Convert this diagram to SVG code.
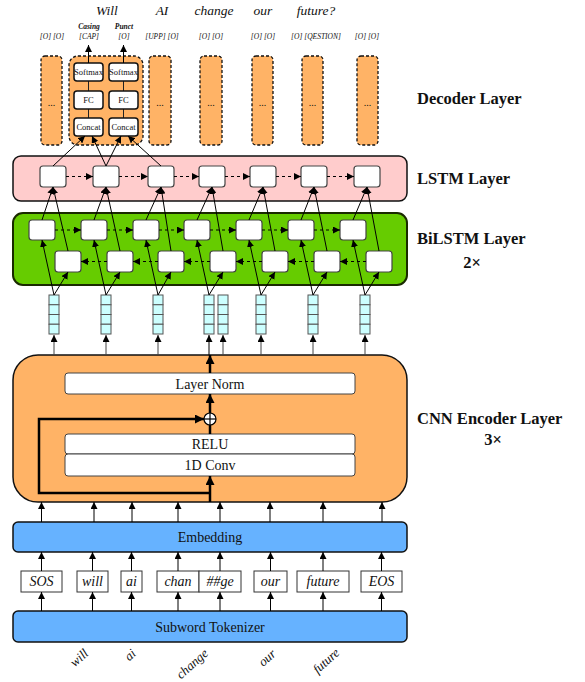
<svg xmlns="http://www.w3.org/2000/svg" width="585" height="682" viewBox="0 0 585 682">
<defs>
<marker id="ah" viewBox="0 0 10 10" refX="10" refY="5" markerWidth="7" markerHeight="7" markerUnits="userSpaceOnUse" orient="auto"><path d="M0,0 L10,5 L0,10 z" fill="#000"/></marker>
<marker id="ahb" viewBox="0 0 10 10" refX="10" refY="5" markerWidth="10" markerHeight="9" markerUnits="userSpaceOnUse" orient="auto"><path d="M0,0 L10,5 L0,10 z" fill="#000"/></marker>
<style>
.t{font-family:"Liberation Serif","Times New Roman",serif;fill:#111}
.c{text-anchor:middle}
.it{font-style:italic}
.bd{font-weight:bold}
.lbl{font-size:16.5px;font-weight:bold}
.cell{fill:#fff;stroke:#444;stroke-width:1.2}
.dbox{fill:#ffb366;stroke:#111;stroke-width:1.3;stroke-dasharray:3,2}
.ibox{fill:#fff;stroke:#111;stroke-width:1.5}
.wbox{fill:#fff;stroke:#444;stroke-width:1}
.vec{fill:#ccffff;stroke:#555;stroke-width:1}
.tok{fill:#fff;stroke:#333;stroke-width:1}
.a{stroke:#000;stroke-width:1;fill:none;marker-end:url(#ah)}
.ag{stroke:#444;stroke-width:1;fill:none;marker-end:url(#ah)}
.ad{stroke:#000;stroke-width:1;fill:none;stroke-dasharray:3,3;marker-end:url(#ah)}
.ak{stroke:#000;stroke-width:2.5;fill:none;marker-end:url(#ahb)}
.ln{stroke:#222;stroke-width:1;fill:none}
</style>
</defs>

<!-- top sentence -->
<g id="sentence" class="t it" font-size="13.5" text-anchor="middle">
<text x="107" y="15">Will</text>
<text x="162" y="15">AI</text>
<text x="214" y="15">change</text>
<text x="263" y="15">our</text>
<text x="316" y="15">future?</text>
</g>

<!-- output labels -->
<g id="outputs" class="t it c" font-size="7.5">
<text x="89" y="29" class="bd">Casing</text>
<text x="124" y="29" class="bd">Punct</text>
<text x="52" y="38.5">[O]  [O]</text>
<text x="89" y="38.5">[CAP]</text>
<text x="124" y="38.5">[O]</text>
<text x="162" y="38.5">[UPP] [O]</text>
<text x="211" y="38.5">[O] [O]</text>
<text x="263" y="38.5">[O]  [O]</text>
<text x="316" y="38.5">[O] [QESTION]</text>
<text x="367" y="38.5">[O] [O]</text>
</g>

<!-- decoder layer -->
<g id="decoder">
<rect class="dbox" x="41" y="56" width="21" height="89" rx="4"/>
<rect class="dbox" x="69" y="56" width="74" height="89" rx="9"/>
<rect class="dbox" x="149" y="56" width="22" height="89" rx="4"/>
<rect class="dbox" x="200" y="56" width="22" height="89" rx="4"/>
<rect class="dbox" x="252" y="56" width="21" height="89" rx="4"/>
<rect class="dbox" x="302" y="56" width="21" height="89" rx="4"/>
<rect class="dbox" x="357" y="56" width="21" height="89" rx="4"/>
<g class="t c" font-size="10">
<text x="51.5" y="106">...</text>
<text x="160" y="106">...</text>
<text x="211" y="106">...</text>
<text x="262.5" y="106">...</text>
<text x="312.5" y="106">...</text>
<text x="367.5" y="106">...</text>
</g>
<line class="ln" x1="88.5" y1="81" x2="88.5" y2="118"/>
<line class="ln" x1="123.5" y1="81" x2="123.5" y2="118"/>
<g id="dec-casing">
<rect class="ibox" x="74" y="63" width="29" height="18" rx="3"/>
<rect class="ibox" x="74" y="91" width="29" height="18" rx="3"/>
<rect class="ibox" x="74" y="118" width="29" height="18" rx="3"/>
<g class="t c" font-size="8.5">
<text x="88.5" y="75">Softmax</text>
<text x="88.5" y="103">FC</text>
<text x="88.5" y="130">Concat</text>
</g>
</g>
<g id="dec-punct">
<rect class="ibox" x="109" y="63" width="29" height="18" rx="3"/>
<rect class="ibox" x="109" y="91" width="29" height="18" rx="3"/>
<rect class="ibox" x="109" y="118" width="29" height="18" rx="3"/>
<g class="t c" font-size="8.5">
<text x="123.5" y="75">Softmax</text>
<text x="123.5" y="103">FC</text>
<text x="123.5" y="130">Concat</text>
</g>
</g>
</g>

<!-- LSTM layer -->
<g id="lstm">
<rect x="13" y="156" width="394" height="45" rx="8" fill="#ffcccc" stroke="#111" stroke-width="1.5"/>
<rect class="cell" x="40" y="166" width="26" height="21" rx="3"/>
<rect class="cell" x="93" y="166" width="26" height="21" rx="3"/>
<rect class="cell" x="148" y="166" width="26" height="21" rx="3"/>
<rect class="cell" x="199" y="166" width="26" height="21" rx="3"/>
<rect class="cell" x="250" y="166" width="26" height="21" rx="3"/>
<rect class="cell" x="301" y="166" width="26" height="21" rx="3"/>
<rect class="cell" x="354" y="166" width="26" height="21" rx="3"/>
</g>

<!-- BiLSTM layer -->
<g id="bilstm">
<rect x="13" y="213" width="394" height="72" rx="10" fill="#66cc00" stroke="#1a2a00" stroke-width="2"/>
<rect class="cell" x="29" y="220" width="26" height="20" rx="3"/>
<rect class="cell" x="81" y="220" width="26" height="20" rx="3"/>
<rect class="cell" x="133" y="220" width="26" height="20" rx="3"/>
<rect class="cell" x="184" y="220" width="26" height="20" rx="3"/>
<rect class="cell" x="236" y="220" width="26" height="20" rx="3"/>
<rect class="cell" x="288" y="220" width="26" height="20" rx="3"/>
<rect class="cell" x="340" y="220" width="26" height="20" rx="3"/>
<rect class="cell" x="55" y="251" width="26" height="21" rx="3"/>
<rect class="cell" x="107" y="251" width="26" height="21" rx="3"/>
<rect class="cell" x="158" y="251" width="26" height="21" rx="3"/>
<rect class="cell" x="210" y="251" width="26" height="21" rx="3"/>
<rect class="cell" x="262" y="251" width="26" height="21" rx="3"/>
<rect class="cell" x="314" y="251" width="26" height="21" rx="3"/>
<rect class="cell" x="366" y="251" width="26" height="21" rx="3"/>
</g>

<!-- vectors -->
<g id="vectors">
<g id="vec1"><rect class="vec" x="49" y="295" width="10" height="9.75"/><rect class="vec" x="49" y="304.75" width="10" height="9.75"/><rect class="vec" x="49" y="314.5" width="10" height="9.75"/><rect class="vec" x="49" y="324.25" width="10" height="9.75"/></g>
<g id="vec2"><rect class="vec" x="101" y="295" width="10" height="9.75"/><rect class="vec" x="101" y="304.75" width="10" height="9.75"/><rect class="vec" x="101" y="314.5" width="10" height="9.75"/><rect class="vec" x="101" y="324.25" width="10" height="9.75"/></g>
<g id="vec3"><rect class="vec" x="153" y="295" width="10" height="9.75"/><rect class="vec" x="153" y="304.75" width="10" height="9.75"/><rect class="vec" x="153" y="314.5" width="10" height="9.75"/><rect class="vec" x="153" y="324.25" width="10" height="9.75"/></g>
<g id="vec4"><rect class="vec" x="204" y="295" width="10" height="9.75"/><rect class="vec" x="204" y="304.75" width="10" height="9.75"/><rect class="vec" x="204" y="314.5" width="10" height="9.75"/><rect class="vec" x="204" y="324.25" width="10" height="9.75"/></g>
<g id="vec5"><rect class="vec" x="218" y="295" width="10" height="9.75"/><rect class="vec" x="218" y="304.75" width="10" height="9.75"/><rect class="vec" x="218" y="314.5" width="10" height="9.75"/><rect class="vec" x="218" y="324.25" width="10" height="9.75"/></g>
<g id="vec6"><rect class="vec" x="256" y="295" width="10" height="9.75"/><rect class="vec" x="256" y="304.75" width="10" height="9.75"/><rect class="vec" x="256" y="314.5" width="10" height="9.75"/><rect class="vec" x="256" y="324.25" width="10" height="9.75"/></g>
<g id="vec7"><rect class="vec" x="308" y="295" width="10" height="9.75"/><rect class="vec" x="308" y="304.75" width="10" height="9.75"/><rect class="vec" x="308" y="314.5" width="10" height="9.75"/><rect class="vec" x="308" y="324.25" width="10" height="9.75"/></g>
<g id="vec8"><rect class="vec" x="360" y="295" width="10" height="9.75"/><rect class="vec" x="360" y="304.75" width="10" height="9.75"/><rect class="vec" x="360" y="314.5" width="10" height="9.75"/><rect class="vec" x="360" y="324.25" width="10" height="9.75"/></g>
</g>

<!-- CNN encoder -->
<g id="cnn">
<rect x="13" y="355" width="394" height="147" rx="25" fill="#ffb366" stroke="#111" stroke-width="1.5"/>
<g id="layernorm"><rect class="wbox" x="65" y="373" width="290" height="21" rx="3"/><text class="t c" x="210" y="388.5" font-size="14">Layer Norm</text></g>
<g id="relu"><rect class="wbox" x="65" y="434" width="290" height="20" rx="3"/><text class="t c" x="210" y="449" font-size="14">RELU</text></g>
<g id="conv"><rect class="wbox" x="65" y="454" width="290" height="22" rx="3"/><text class="t c" x="210" y="470" font-size="14">1D Conv</text></g>
<g id="add"><circle cx="210" cy="419" r="6" fill="#fff" stroke="#000" stroke-width="1.2"/><line x1="204" y1="419" x2="216" y2="419" stroke="#000" stroke-width="1.2"/><line x1="210" y1="413" x2="210" y2="425" stroke="#000" stroke-width="1.2"/></g>
</g>

<!-- Embedding -->
<g id="embedding"><rect x="13" y="522" width="394" height="30" rx="5" fill="#66b2ff" stroke="#111" stroke-width="1.5"/><text class="t c" x="210" y="542" font-size="14">Embedding</text></g>

<!-- tokens -->
<g id="tokens" class="t it c" font-size="14">
<g id="tok-sos"><rect class="tok" x="21" y="571" width="41" height="21"/><text x="41.5" y="586">SOS</text></g>
<g id="tok-will"><rect class="tok" x="77" y="571" width="31" height="21"/><text x="92.5" y="586">will</text></g>
<g id="tok-ai"><rect class="tok" x="121" y="571" width="21" height="21"/><text x="131.5" y="586">ai</text></g>
<g id="tok-chan"><rect class="tok" x="157" y="571" width="42" height="21"/><text x="178" y="586">chan</text></g>
<g id="tok-ge"><rect class="tok" x="199" y="571" width="42" height="21"/><text x="220" y="586">##ge</text></g>
<g id="tok-our"><rect class="tok" x="254" y="571" width="33" height="21"/><text x="270.5" y="586">our</text></g>
<g id="tok-future"><rect class="tok" x="297" y="571" width="52" height="21"/><text x="323" y="586">future</text></g>
<g id="tok-eos"><rect class="tok" x="361" y="571" width="41" height="21"/><text x="381.5" y="586">EOS</text></g>
</g>

<!-- Tokenizer -->
<g id="tokenizer"><rect x="13" y="611" width="394" height="31" rx="5" fill="#66b2ff" stroke="#111" stroke-width="1.5"/><text class="t c" x="210" y="631.5" font-size="14">Subword Tokenizer</text></g>

<!-- input words -->
<g id="words" class="t it c" font-size="13">
<text transform="translate(82,661) rotate(-42)">will</text>
<text transform="translate(133,658) rotate(-42)">ai</text>
<text transform="translate(195,667) rotate(-42)">change</text>
<text transform="translate(270,661) rotate(-42)">our</text>
<text transform="translate(329,664) rotate(-42)">future</text>
</g>

<!-- right labels -->
<g id="labels" class="t lbl">
<text x="417" y="104">Decoder Layer</text>
<text x="417" y="184">LSTM Layer</text>
<text x="417" y="244">BiLSTM Layer</text>
<text x="472" y="268" text-anchor="middle">2×</text>
<text x="417" y="424">CNN Encoder Layer</text>
<text x="493" y="445" text-anchor="middle">3×</text>
</g>

<!-- connectors -->
<g id="connectors">
<!-- softmax outputs -->
<line class="a" x1="88.5" y1="63" x2="88.5" y2="45"/>
<line class="a" x1="123.5" y1="63" x2="123.5" y2="45"/>
<!-- LSTM to decoder -->
<line class="a" x1="53" y1="166" x2="85" y2="136"/>
<line class="a" x1="106" y1="166" x2="92" y2="136"/>
<line class="a" x1="106" y1="166" x2="121" y2="136"/>
<line class="a" x1="161" y1="166" x2="128" y2="136"/>
<!-- LSTM recurrence -->
<line class="ad" x1="66" y1="176.5" x2="93" y2="176.5"/>
<line class="ad" x1="119" y1="176.5" x2="148" y2="176.5"/>
<line class="ad" x1="174" y1="176.5" x2="199" y2="176.5"/>
<line class="ad" x1="225" y1="176.5" x2="250" y2="176.5"/>
<line class="ad" x1="276" y1="176.5" x2="301" y2="176.5"/>
<line class="ad" x1="327" y1="176.5" x2="354" y2="176.5"/>
<!-- BiLSTM to LSTM -->
<line class="a" x1="42" y1="220" x2="53" y2="187"/>
<line class="a" x1="68" y1="251" x2="53" y2="187"/>
<line class="a" x1="94" y1="220" x2="106" y2="187"/>
<line class="a" x1="120" y1="251" x2="106" y2="187"/>
<line class="a" x1="146" y1="220" x2="161" y2="187"/>
<line class="a" x1="171" y1="251" x2="161" y2="187"/>
<line class="a" x1="197" y1="220" x2="212" y2="187"/>
<line class="a" x1="223" y1="251" x2="212" y2="187"/>
<line class="a" x1="249" y1="220" x2="263" y2="187"/>
<line class="a" x1="275" y1="251" x2="263" y2="187"/>
<line class="a" x1="301" y1="220" x2="314" y2="187"/>
<line class="a" x1="327" y1="251" x2="314" y2="187"/>
<line class="a" x1="353" y1="220" x2="367" y2="187"/>
<line class="a" x1="379" y1="251" x2="367" y2="187"/>
<!-- BiLSTM forward -->
<line class="ad" x1="55" y1="230" x2="81" y2="230"/>
<line class="ad" x1="107" y1="230" x2="133" y2="230"/>
<line class="ad" x1="159" y1="230" x2="184" y2="230"/>
<line class="ad" x1="210" y1="230" x2="236" y2="230"/>
<line class="ad" x1="262" y1="230" x2="288" y2="230"/>
<line class="ad" x1="314" y1="230" x2="340" y2="230"/>
<!-- BiLSTM backward -->
<line class="ad" x1="107" y1="261.5" x2="81" y2="261.5"/>
<line class="ad" x1="158" y1="261.5" x2="133" y2="261.5"/>
<line class="ad" x1="210" y1="261.5" x2="184" y2="261.5"/>
<line class="ad" x1="262" y1="261.5" x2="236" y2="261.5"/>
<line class="ad" x1="314" y1="261.5" x2="288" y2="261.5"/>
<line class="ad" x1="366" y1="261.5" x2="340" y2="261.5"/>
<!-- vectors to BiLSTM -->
<line class="a" x1="54" y1="295" x2="42" y2="240"/>
<line class="a" x1="54" y1="295" x2="68" y2="272"/>
<line class="a" x1="106" y1="295" x2="94" y2="240"/>
<line class="a" x1="106" y1="295" x2="120" y2="272"/>
<line class="a" x1="158" y1="295" x2="146" y2="240"/>
<line class="a" x1="158" y1="295" x2="171" y2="272"/>
<line class="a" x1="209" y1="295" x2="197" y2="240"/>
<line class="a" x1="209" y1="295" x2="223" y2="272"/>
<line class="a" x1="261" y1="295" x2="249" y2="240"/>
<line class="a" x1="261" y1="295" x2="275" y2="272"/>
<line class="a" x1="313" y1="295" x2="301" y2="240"/>
<line class="a" x1="313" y1="295" x2="327" y2="272"/>
<line class="a" x1="365" y1="295" x2="353" y2="240"/>
<line class="a" x1="365" y1="295" x2="379" y2="272"/>
<!-- CNN to vectors -->
<line class="ag" x1="54" y1="355" x2="54" y2="335"/>
<line class="ag" x1="106" y1="355" x2="106" y2="335"/>
<line class="ag" x1="158" y1="355" x2="158" y2="335"/>
<line class="a" x1="209" y1="355" x2="209" y2="335"/>
<line class="ag" x1="223" y1="355" x2="223" y2="335"/>
<line class="ag" x1="261" y1="355" x2="261" y2="335"/>
<line class="ag" x1="313" y1="355" x2="313" y2="335"/>
<line class="ag" x1="365" y1="355" x2="365" y2="335"/>
<!-- CNN internal -->
<line class="ak" x1="210" y1="373" x2="210" y2="355"/>
<line class="ak" x1="210" y1="413" x2="210" y2="394"/>
<line x1="210" y1="434" x2="210" y2="425" stroke="#000" stroke-width="2.5"/>
<line class="ak" x1="210" y1="502" x2="210" y2="476"/>
<polyline class="ak" points="210,493 39,493 39,419 204,419"/>
<!-- embedding to CNN -->
<line class="a" x1="41.5" y1="522" x2="41.5" y2="502"/>
<line class="a" x1="94" y1="522" x2="94" y2="502"/>
<line class="a" x1="132" y1="522" x2="132" y2="502"/>
<line class="a" x1="178" y1="522" x2="178" y2="502"/>
<line class="a" x1="220" y1="522" x2="220" y2="502"/>
<line class="a" x1="270" y1="522" x2="270" y2="502"/>
<line class="a" x1="323" y1="522" x2="323" y2="502"/>
<line class="a" x1="382" y1="522" x2="382" y2="502"/>
<!-- tokens to embedding -->
<line class="a" x1="41.5" y1="571" x2="41.5" y2="552"/>
<line class="a" x1="92.5" y1="571" x2="92.5" y2="552"/>
<line class="a" x1="131.5" y1="571" x2="131.5" y2="552"/>
<line class="a" x1="178" y1="571" x2="178" y2="552"/>
<line class="a" x1="220" y1="571" x2="220" y2="552"/>
<line class="a" x1="270.5" y1="571" x2="270.5" y2="552"/>
<line class="a" x1="323" y1="571" x2="323" y2="552"/>
<line class="a" x1="381.5" y1="571" x2="381.5" y2="552"/>
<!-- tokenizer to tokens -->
<line class="a" x1="41.5" y1="611" x2="41.5" y2="592"/>
<line class="a" x1="92.5" y1="611" x2="92.5" y2="592"/>
<line class="a" x1="131.5" y1="611" x2="131.5" y2="592"/>
<line class="a" x1="178" y1="611" x2="178" y2="592"/>
<line class="a" x1="220" y1="611" x2="220" y2="592"/>
<line class="a" x1="270.5" y1="611" x2="270.5" y2="592"/>
<line class="a" x1="323" y1="611" x2="323" y2="592"/>
<line class="a" x1="381.5" y1="611" x2="381.5" y2="592"/>
</g>
</svg>
